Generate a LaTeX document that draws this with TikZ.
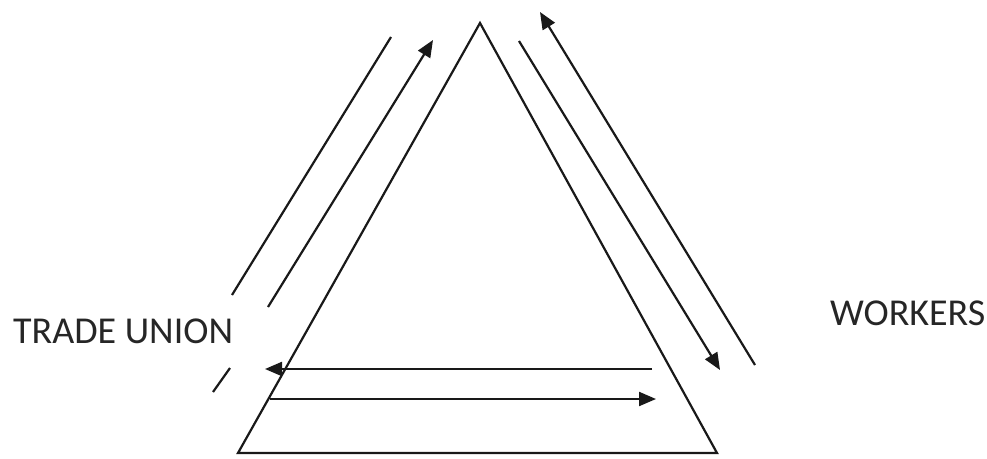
\documentclass[tikz,border=0pt]{standalone}
\usepackage{fontspec}
\setmainfont{Carlito}
\usetikzlibrary{arrows.meta}
\begin{document}
\begin{tikzpicture}[x=1pt,y=-1pt,
  edge/.style={line width=2.2pt,black!90},
  arr/.style={edge,-{Triangle[length=17pt,width=14pt]}},
  lbl/.style={font=\fontsize{38}{44}\selectfont,text=black!85,inner sep=0pt,anchor=base west}]
\useasboundingbox (0,0) rectangle (987,458);
% triangle
\coordinate (A) at (480,23);
\coordinate (B) at (238,453);
\coordinate (C) at (717,453);
\draw[edge,line join=miter] (A) -- (B) -- (C) -- cycle;
% left side lines
\coordinate (l1a) at (391,37);
\coordinate (l1b) at (232,295);
\coordinate (l2a) at (230,368);
\coordinate (l2b) at (213,392);
\draw[edge] (l1a) -- (l1b);
\draw[edge] (l2a) -- (l2b);
\coordinate (la0) at (268,307);
\coordinate (la1) at (433,40);
\draw[arr] (la0) -- (la1);
% right side arrows
\coordinate (ra0) at (519,41);
\coordinate (ra1) at (720,370);
\draw[arr] (ra0) -- (ra1);
\coordinate (rb0) at (755,365);
\coordinate (rb1) at (540,12);
\draw[arr] (rb0) -- (rb1);
% horizontal arrows
\coordinate (h1a) at (652,369);
\coordinate (h1b) at (265,369);
\draw[arr] (h1a) -- (h1b);
\coordinate (h2a) at (270,399);
\coordinate (h2b) at (656,399);
\draw[arr] (h2a) -- (h2b);
% labels
\node[lbl] (tu) at (13,343) {TRADE UNION};
\node[lbl] (wk) at (830,325) {WORKERS};
\end{tikzpicture}
\end{document}
